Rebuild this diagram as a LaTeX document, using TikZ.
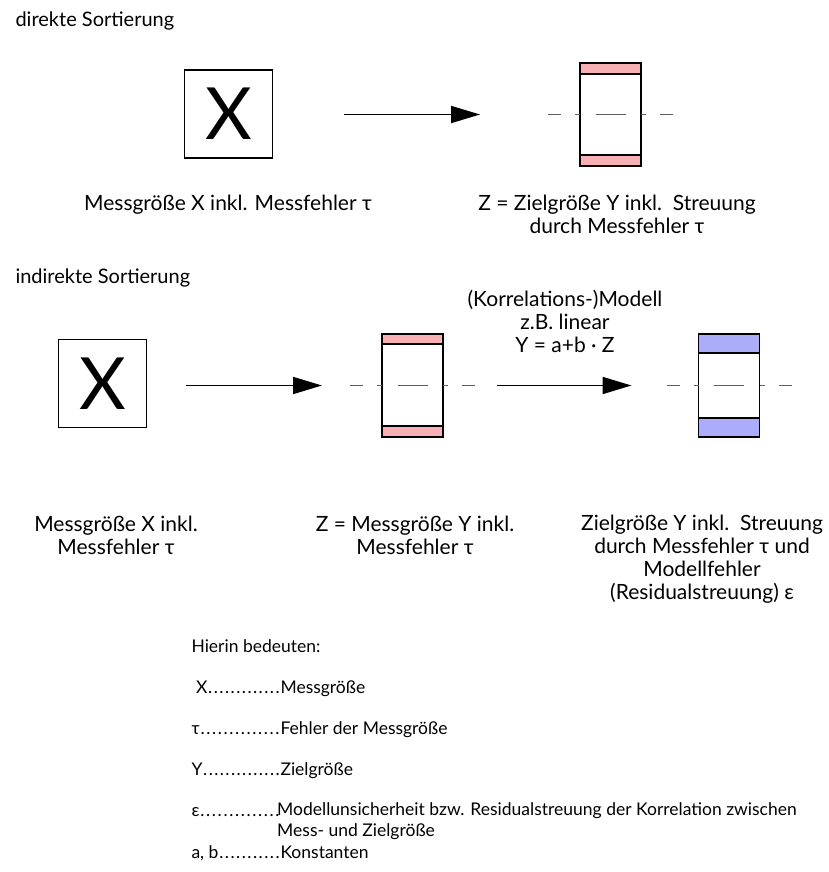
\documentclass[tikz,border=0pt]{standalone}
\usepackage{fontspec}
\setmainfont{Lato}
\usetikzlibrary{arrows.meta}

\definecolor{zband}{RGB}{249,176,181}
\definecolor{yband}{RGB}{171,173,250}
\definecolor{mittelgrau}{RGB}{95,95,95}

\tikzset{
  xkasten/.style={draw, line width=1.8pt, minimum width=88pt, minimum height=88pt,
    inner sep=0pt, outer sep=0pt, font=\fontsize{72}{72}\selectfont},
  zkasten/.style={draw, line width=1.8pt, fill=white, minimum width=61pt,
    minimum height=103pt, inner sep=0pt, outer sep=0pt},
  pfeil/.style={line width=1.8pt, -{Triangle[length=29pt,width=17pt]}},
  mittellinie/.style={mittelgrau, line width=1.4pt, dash pattern=on 13pt off 14pt},
  beschriftung/.style={align=center, font=\fontsize{21}{23}\selectfont},
  titel/.style={anchor=base west, font=\fontsize{20}{22}\selectfont},
  legende/.style={anchor=base west, align=left, font=\fontsize{17.5}{21}\selectfont},
}

\begin{document}
\begin{tikzpicture}[x=1pt,y=-1pt]
	\useasboundingbox (0,0) rectangle (828,872);

	% direkte Sortierung
	\node[titel] (titelA) at (12,27) {direkte Sortierung};

	\node[xkasten] (xA) at (228.5,114) {X};
	\node[zkasten] (zA) at (610.5,114.5) {};
	\filldraw[fill=zband, line width=1.8pt] (zA.north west) rectangle ([yshift=-11pt]zA.north east);
	\filldraw[fill=zband, line width=1.8pt] (zA.south west) rectangle ([yshift=11pt]zA.south east);
	\draw[mittellinie] ([xshift=-32pt]zA.west) -- (zA.west);
	\draw[mittellinie] ([xshift=32pt]zA.east) -- (zA.east);
	\draw[mittelgrau, line width=1.4pt] ([xshift=-15pt]zA.center) -- ([xshift=15pt]zA.center);

	\draw[pfeil, shorten <=71pt, shorten >=100pt] (zA.west -| xA.east) -- (zA.west);

	\node[beschriftung] (tA1) at (228,205) {Messgröße X inkl. Messfehler τ};
	\node[beschriftung] (tA2) at (617,214) {Z = Zielgröße Y inkl.\ \ Streuung\\durch Messfehler τ};

	% indirekte Sortierung
	\node[titel] (titelB) at (12,283) {indirekte Sortierung};

	\node[xkasten] (xB) at (102.5,383.5) {X};
	\node[zkasten] (zB) at (412.5,385.5) {};
	\filldraw[fill=zband, line width=1.8pt] (zB.north west) rectangle ([yshift=-10pt]zB.north east);
	\filldraw[fill=zband, line width=1.8pt] (zB.south west) rectangle ([yshift=11pt]zB.south east);
	\draw[mittellinie] ([xshift=-32pt]zB.west) -- (zB.west);
	\draw[mittellinie] ([xshift=32pt]zB.east) -- (zB.east);
	\draw[mittelgrau, line width=1.4pt] ([xshift=-15pt]zB.center) -- ([xshift=15pt]zB.center);

	\node[zkasten] (yB) at (729,385.5) {};
	\filldraw[fill=yband, line width=1.8pt] (yB.north west) rectangle ([yshift=-19pt]yB.north east);
	\filldraw[fill=yband, line width=1.8pt] (yB.south west) rectangle ([yshift=19pt]yB.south east);
	\draw[mittellinie] ([xshift=-32pt]yB.west) -- (yB.west);
	\draw[mittellinie] ([xshift=32pt]yB.east) -- (yB.east);
	\draw[mittelgrau, line width=1.4pt] ([xshift=-15pt]yB.center) -- ([xshift=15pt]yB.center);

	\draw[pfeil, shorten <=39pt, shorten >=60pt] (zB.west -| xB.east) -- (zB.west);
	\draw[pfeil, shorten <=54pt, shorten >=67pt] (zB.east) -- (yB.west);

	\node[beschriftung] (modell) at (565,321) {(Korrelations-)Modell\\z.B. linear\\Y = a+b · Z};

	\node[beschriftung] (tB1) at (116,535.5) {Messgröße X inkl.\\Messfehler τ};
	\node[beschriftung] (tB2) at (415,535.5) {Z = Messgröße Y inkl.\\Messfehler τ};
	\node[beschriftung] (tB3) at (702,559) {Zielgröße Y inkl.\ \ Streuung\\durch Messfehler τ und\\Modellfehler\\(Residualstreuung) ε};

	% Legende
	\node[legende] (hierin) at (188,652) {Hierin bedeuten:};
	\node[legende] (sX) at (188,693) {\makebox[89pt][l]{\ X\xleaders\hbox to 5.5pt{\hss.\hss}\hfill}};
	\node[legende] (bX) at (277,693) {Messgröße};
	\node[legende] (sT) at (188,734) {\makebox[89pt][l]{τ\xleaders\hbox to 5.5pt{\hss.\hss}\hfill}};
	\node[legende] (bT) at (277,734) {Fehler der Messgröße};
	\node[legende] (sY) at (188,775) {\makebox[89pt][l]{Y\xleaders\hbox to 5.5pt{\hss.\hss}\hfill}};
	\node[legende] (bY) at (277,775) {Zielgröße};
	\node[legende] (sE) at (188,816) {\makebox[89pt][l]{ε\xleaders\hbox to 5.5pt{\hss.\hss}\hfill}};
	\node[legende, anchor=north west, inner sep=0pt] (bE) at (277,802.5) {Modellunsicherheit bzw. Residualstreuung der Korrelation zwischen\\Mess- und Zielgröße};
	\node[legende] (sAB) at (188,858) {\makebox[89pt][l]{a, b\xleaders\hbox to 5.5pt{\hss.\hss}\hfill}};
	\node[legende] (bAB) at (277,858) {Konstanten};
\end{tikzpicture}
\end{document}
